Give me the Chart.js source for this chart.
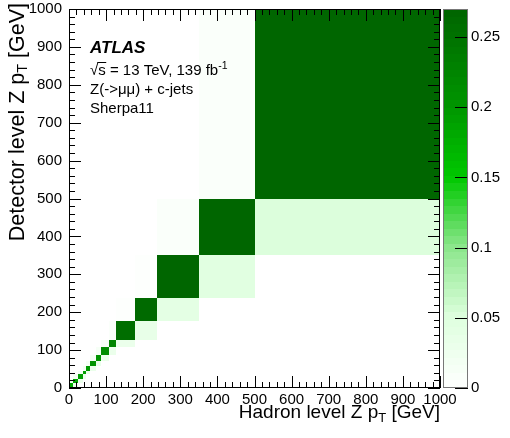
<!DOCTYPE html>
<html>
<head>
<meta charset="utf-8">
<script src="https://cdn.jsdelivr.net/npm/chart.js@4.4.1/dist/chart.umd.min.js"></script>
<style>
  body { margin: 0; background: #fff; }
  #wrap { position: relative; width: 510px; height: 438px; }
  #wrap canvas { position: absolute; top: 0; }
</style>
</head>
<body>
<div id="wrap">
  <canvas id="matrix" width="510" height="438" style="left:0"></canvas>
  <canvas id="zbar" width="67" height="438" style="left:443px"></canvas>
</div>
<script>
// Z pT binning [GeV], same at hadron and detector level
const ptEdges = [0, 12, 25, 37, 46, 57, 72, 87, 107, 127, 177, 237, 350, 500, 1000];
// fraction in each diagonal bin
const diagFrac = [0.18, 0.185, 0.19, 0.19, 0.195, 0.2, 0.205, 0.215, 0.225, 0.255, 0.26, 0.265, 0.268, 0.27];
// detector bin one above the hadron bin
const upperFrac = [0.02, 0.02, 0.018, 0.018, 0.016, 0.015, 0.013, 0.012, 0.008, 0.005, 0.005, 0.006, 0.008];
// detector bin one below the hadron bin
const lowerFrac = [0.03, 0.03, 0.03, 0.03, 0.03, 0.03, 0.03, 0.03, 0.03, 0.035, 0.04, 0.045, 0.05];

const axisTicks = [0, 100, 200, 300, 400, 500, 600, 700, 800, 900, 1000];
const zTicks = [0, 0.05, 0.1, 0.15, 0.2, 0.25];
const zMax = 0.27;

const infoLines = ["Z(->\u03bc\u03bc) + c-jets", "Sherpa11"];

const FONT = "'Liberation Sans', Arial, Helvetica, sans-serif";
Chart.defaults.font.family = FONT;
Chart.defaults.color = "#000";

// green palette, drawn in discrete contour levels
const paletteStops = [
  [0, [255, 255, 255]],
  [0.05, [222, 255, 222]],
  [0.1, [140, 230, 140]],
  [0.15, [0, 200, 0]],
  [0.2, [0, 150, 0]],
  [0.27, [0, 100, 0]],
];
const nLevels = 50;

const paletteAt = (z) => {
  for (let k = 1; k < paletteStops.length; k++) {
    const [z0, c0] = paletteStops[k - 1];
    const [z1, c1] = paletteStops[k];
    if (z <= z1) {
      const t = (z - z0) / (z1 - z0);
      const c = c0.map((v, i) => Math.round(v + (c1[i] - v) * t));
      return `rgb(${c[0]},${c[1]},${c[2]})`;
    }
  }
  const c = paletteStops[paletteStops.length - 1][1];
  return `rgb(${c[0]},${c[1]},${c[2]})`;
};

const levelColor = (z) => {
  const lev = Math.min(nLevels - 1, Math.floor((z / zMax) * nLevels));
  return paletteAt(((lev + 0.5) / nLevels) * zMax);
};

const font = (size, style = "") => `${style} ${size}px ${FONT}`;

// draw text made of pieces with their own size and vertical shift
const drawPieces = (ctx, pieces, x, y, align) => {
  let total = 0;
  pieces.forEach((p) => {
    ctx.font = font(p.size, p.style || "");
    p.w = ctx.measureText(p.t).width;
    total += p.w;
  });
  let cx = align === "right" ? x - total : x;
  ctx.textAlign = "left";
  pieces.forEach((p) => {
    ctx.font = font(p.size, p.style || "");
    ctx.fillText(p.t, cx, y + (p.dy || 0));
    cx += p.w;
  });
};

// keep the layout padding in charge of the plot frame
const noVertPad = (s) => { s.paddingTop = 0; s.paddingBottom = 0; };
const noHorzPad = (s) => { s.paddingLeft = 0; s.paddingRight = 0; };

const heatmap = {
  id: "heatmap",
  beforeDatasetsDraw(chart) {
    const { ctx, scales } = chart;
    const xs = scales.x;
    const ys = scales.y;
    const cell = (i, j, z) => {
      if (!(z > 0)) return;
      const x0 = Math.round(xs.getPixelForValue(ptEdges[i]));
      const x1 = Math.round(xs.getPixelForValue(ptEdges[i + 1]));
      const y0 = Math.round(ys.getPixelForValue(ptEdges[j + 1]));
      const y1 = Math.round(ys.getPixelForValue(ptEdges[j]));
      ctx.fillStyle = levelColor(z);
      ctx.fillRect(x0, y0, x1 - x0, y1 - y0);
    };
    ctx.save();
    diagFrac.forEach((z, i) => cell(i, i, z));
    upperFrac.forEach((z, i) => cell(i, i + 1, z));
    lowerFrac.forEach((z, i) => cell(i + 1, i, z));
    ctx.restore();
  },
};

const frameAndTicks = {
  id: "frameAndTicks",
  afterDatasetsDraw(chart) {
    const { ctx, chartArea: a, scales } = chart;
    ctx.save();
    ctx.strokeStyle = "#000";
    ctx.lineWidth = 1;
    ctx.beginPath();
    for (let v = 0; v <= 1000; v += 20) {
      const len = v % 100 === 0 ? 12 : 6;
      const px = Math.round(scales.x.getPixelForValue(v)) + 0.5;
      ctx.moveTo(px, a.bottom);
      ctx.lineTo(px, a.bottom - len);
      ctx.moveTo(px, a.top);
      ctx.lineTo(px, a.top + len);
      const py = Math.round(scales.y.getPixelForValue(v)) + 0.5;
      ctx.moveTo(a.left, py);
      ctx.lineTo(a.left + len, py);
      ctx.moveTo(a.right, py);
      ctx.lineTo(a.right - len, py);
    }
    ctx.stroke();
    ctx.strokeRect(a.left + 0.5, a.top + 0.5, a.right - a.left - 1, a.bottom - a.top - 1);
    ctx.restore();
  },
  afterDraw(chart) {
    const { ctx, chartArea: a } = chart;
    ctx.save();
    ctx.fillStyle = "#000";
    ctx.textBaseline = "middle";

    // x title, right aligned at the axis end
    drawPieces(ctx, [
      { t: "Hadron level Z p", size: 19 },
      { t: "T", size: 13, dy: 5 },
      { t: " [GeV]", size: 19 },
    ], a.right, 413, "right");

    // y title, rotated, ending at the top of the axis
    ctx.save();
    ctx.translate(18, 0);
    ctx.rotate(-Math.PI / 2);
    drawPieces(ctx, [
      { t: "Detector level Z p", size: 21.5 },
      { t: "T", size: 14.5, dy: 5 },
      { t: " [GeV]", size: 21.5 },
    ], -3, 0, "right");
    ctx.restore();

    // labels
    ctx.textBaseline = "alphabetic";
    ctx.textAlign = "left";
    ctx.font = font(17, "italic bold");
    ctx.fillText("ATLAS", 90, 53);

    ctx.font = font(15);
    const rootW = ctx.measureText("\u221a").width;
    const sW = ctx.measureText("s").width;
    drawPieces(ctx, [
      { t: "\u221as = 13 TeV, 139 fb", size: 15 },
      { t: "-1", size: 10.5, dy: -6 },
    ], 90, 75, "left");
    ctx.beginPath();
    ctx.moveTo(90 + rootW - 1, 75 - 12.5);
    ctx.lineTo(90 + rootW + sW + 0.5, 75 - 12.5);
    ctx.lineWidth = 1;
    ctx.strokeStyle = "#000";
    ctx.stroke();

    ctx.font = font(15);
    ctx.fillText(infoLines[0], 90, 94);
    ctx.fillText(infoLines[1], 90, 113);
    ctx.restore();
  },
};

new Chart(document.getElementById("matrix"), {
  type: "scatter",
  data: { datasets: [{ data: [] }] },
  options: {
    responsive: false,
    animation: false,
    events: [],
    layout: { padding: { top: 9, right: 70, bottom: 0, left: 0 } },
    plugins: { legend: { display: false }, tooltip: { enabled: false } },
    scales: {
      x: {
        type: "linear",
        min: 0,
        max: 1000,
        afterBuildTicks: (s) => { s.ticks = axisTicks.map((v) => ({ value: v })); },
        ticks: { padding: 3, maxRotation: 0, autoSkip: false, font: { size: 15 }, callback: (v) => String(v) },
        grid: { display: false, drawTicks: false },
        border: { display: false },
        afterFit: (s) => { s.height = 50; noHorzPad(s); },
      },
      y: {
        type: "linear",
        min: 0,
        max: 1000,
        afterBuildTicks: (s) => { s.ticks = axisTicks.map((v) => ({ value: v })); },
        ticks: { padding: 7, autoSkip: false, font: { size: 15 }, callback: (v) => String(v) },
        grid: { display: false, drawTicks: false },
        border: { display: false },
        afterFit: (s) => { s.width = 69; noVertPad(s); },
      },
    },
  },
  plugins: [heatmap, frameAndTicks],
});

const colorBar = {
  id: "colorBar",
  beforeDatasetsDraw(chart) {
    const { ctx, chartArea: a, scales } = chart;
    const ys = scales.y;
    ctx.save();
    for (let k = 0; k < nLevels; k++) {
      const zLo = (k / nLevels) * zMax;
      const zHi = ((k + 1) / nLevels) * zMax;
      const y0 = Math.round(ys.getPixelForValue(zHi));
      const y1 = Math.round(ys.getPixelForValue(zLo));
      ctx.fillStyle = levelColor((zLo + zHi) / 2);
      ctx.fillRect(a.left, y0, a.right - a.left, y1 - y0);
    }
    ctx.strokeStyle = "#000";
    ctx.lineWidth = 1;
    ctx.beginPath();
    zTicks.forEach((z) => {
      const py = Math.round(ys.getPixelForValue(z)) + 0.5;
      ctx.moveTo(a.right, py);
      ctx.lineTo(a.right - 13, py);
    });
    ctx.stroke();
    ctx.strokeStyle = "#777";
    ctx.strokeRect(a.left + 0.5, a.top + 0.5, a.right - a.left - 1, a.bottom - a.top - 1);
    ctx.restore();
  },
};

new Chart(document.getElementById("zbar"), {
  type: "scatter",
  data: { datasets: [{ data: [] }] },
  options: {
    responsive: false,
    animation: false,
    events: [],
    layout: { padding: { top: 9, right: 0, bottom: 50, left: 0 } },
    plugins: { legend: { display: false }, tooltip: { enabled: false } },
    scales: {
      x: { type: "linear", min: 0, max: 1, display: false },
      y: {
        type: "linear",
        position: "right",
        min: 0,
        max: zMax,
        afterBuildTicks: (s) => { s.ticks = zTicks.map((v) => ({ value: v })); },
        ticks: {
          padding: 3,
          autoSkip: false,
          font: { size: 15 },
          callback: (v) => String(Number(v.toFixed(2))),
        },
        grid: { display: false, drawTicks: false },
        border: { display: false },
        afterFit: (s) => { s.width = 42; noVertPad(s); },
      },
    },
  },
  plugins: [colorBar],
});
</script>
</body>
</html>
